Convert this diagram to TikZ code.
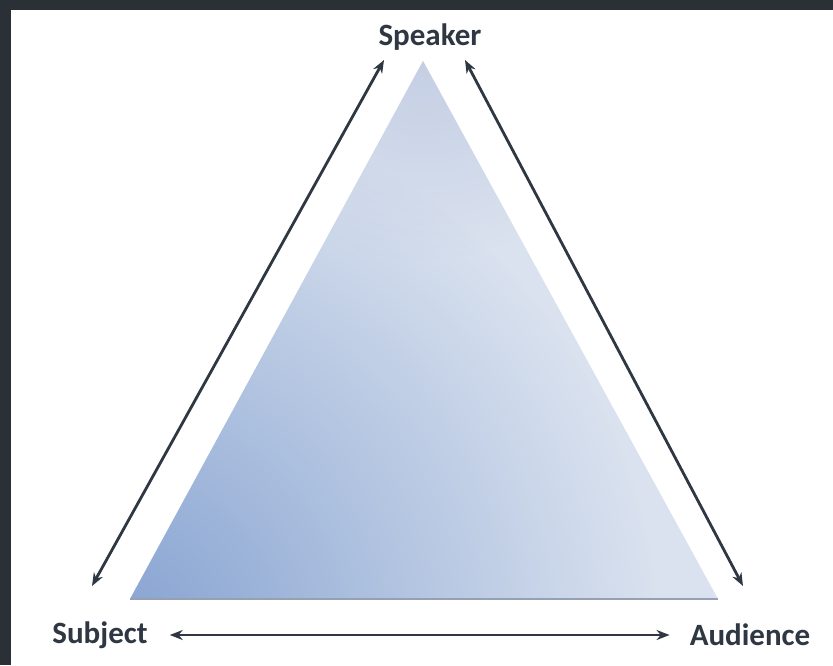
\documentclass[tikz,border=0pt]{standalone}
\usepackage{fontspec}
\setmainfont{Carlito}
\usetikzlibrary{arrows.meta,fadings}
\definecolor{frame}{HTML}{2B3036}
\definecolor{ink}{HTML}{2E3742}
\definecolor{tribase}{RGB}{218,226,239}
\definecolor{trideep}{RGB}{130,160,208}
\definecolor{tritop}{RGB}{180,191,219}
\definecolor{triedge}{RGB}{150,160,178}
\tikzfading[name=blob,inner color=transparent!0,outer color=transparent!100]

\begin{document}
\begin{tikzpicture}[x=1pt,y=-1pt,
        lbl/.style={text=ink,font=\fontsize{31}{34}\selectfont\bfseries,inner sep=0pt},
        link/.style={ink,line width=2.8pt,{Stealth[length=13pt,width=10pt]}-{Stealth[length=13pt,width=10pt]}}]
    \useasboundingbox (0,0) rectangle (833,665);
    \fill[frame] (0,0) rectangle (833,665);
    \fill[white] (11,10) rectangle (833,665);
    % the triangle, light fill with a deeper blue toward the lower left
    \begin{scope}
        \clip (130,599) -- (423,61) -- (718,599) -- cycle;
        \fill[tribase] (100,40) rectangle (740,610);
        \fill[trideep,path fading=blob] (100,650) circle (560);
        \fill[tritop,path fading=blob,opacity=0.6] (423,40) circle (220);
    \end{scope}
    \draw[triedge,line width=1.5pt] (130,599)--(718,599);
    % labels
    \node[lbl] (speaker) at (430,37) {Speaker};
    \node[lbl] (subject) at (100,635) {Subject};
    \node[lbl] (audience) at (750,635) {Audience};
    % arrow ends
    \coordinate (spl) at (384,60);
    \coordinate (spr) at (465,60);
    \coordinate (sub) at (92,586);
    \coordinate (aud) at (743,586);
    \path (subject.east) ++(22,0) coordinate (sbe);
    \path (audience.west) ++(-20,0) coordinate (auw);
    \draw[link] (sub)--(spl);
    \draw[link] (spr)--(aud);
    \draw[link] (sbe)--(auw);
\end{tikzpicture}
\end{document}
